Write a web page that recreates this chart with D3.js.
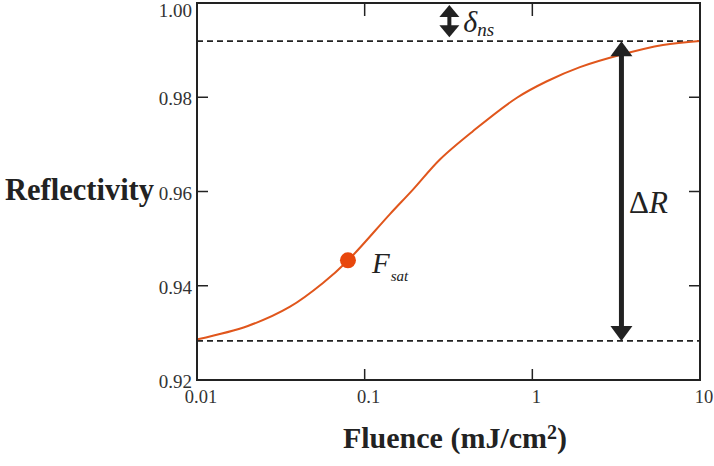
<!DOCTYPE html>
<html>
<head>
<meta charset="utf-8">
<script src="https://cdn.jsdelivr.net/npm/d3@7"></script>
<style>
  html, body { margin: 0; padding: 0; background: #fff; }
  svg { display: block; }
</style>
</head>
<body>
<svg id="chart" width="714" height="466"></svg>
<script>
// ---- data ----
const fluence = [0.0101, 0.0201, 0.0359, 0.0564, 0.0795, 0.1415, 0.194, 0.281, 0.442, 0.809, 1.222, 1.923, 3.33, 6.01, 10];
const reflectivity = [0.92864, 0.93146, 0.93555, 0.94058, 0.94536, 0.95520, 0.96040, 0.96680, 0.97280, 0.97990, 0.98340, 0.98640, 0.98897, 0.99109, 0.99194];
const xTicks = [0.01, 0.1, 1, 10];
const xTickLabels = ["0.01", "0.1", "1", "10"];
const yTicks = [0.92, 0.94, 0.96, 0.98, 1.00];
const yTickLabels = ["0.92", "0.94", "0.96", "0.98", "1.00"];
const upperLevel = 0.9919;
const lowerLevel = 0.9283;
const fsatPoint = [0.0795, 0.9454];
const deltaRFluence = 3.4;
const deltaNsFluence = 0.32;

// ---- layout ----
const svg = d3.select("#chart");
const L = 197, R = 700, T = 3, B = 380;
const x = d3.scaleLog().domain([0.01, 10]).range([L, R]);
const y = d3.scaleLinear().domain([0.92, 1.00]).range([B, T]);
const ink = "#222";
const orange = "#e0561c";
const serif = "'Liberation Serif', 'Times New Roman', serif";

// ticks (inward)
const tickLen = 11;
const g = svg.append("g");
xTicks.slice(1, -1).forEach(v => {
  g.append("line").attr("x1", x(v)).attr("x2", x(v)).attr("y1", B).attr("y2", B - tickLen).attr("stroke", ink).attr("stroke-width", 1.5);
  g.append("line").attr("x1", x(v)).attr("x2", x(v)).attr("y1", T).attr("y2", T + tickLen + 2).attr("stroke", ink).attr("stroke-width", 1.5);
});
yTicks.slice(1, -1).forEach(v => {
  g.append("line").attr("x1", L).attr("x2", L + tickLen).attr("y1", y(v)).attr("y2", y(v)).attr("stroke", ink).attr("stroke-width", 1.5);
  g.append("line").attr("x1", R).attr("x2", R - tickLen).attr("y1", y(v)).attr("y2", y(v)).attr("stroke", ink).attr("stroke-width", 1.5);
});

// tick labels
xTicks.forEach((v, i) => {
  svg.append("text").attr("x", x(v) + 4).attr("y", 403).attr("text-anchor", "middle")
    .attr("font-family", serif).attr("font-size", 18.5).attr("fill", "#333").text(xTickLabels[i]);
});
yTicks.forEach((v, i) => {
  svg.append("text").attr("x", 192).attr("y", i === yTicks.length - 1 ? 17 : y(v) + 8).attr("text-anchor", "end")
    .attr("font-family", serif).attr("font-size", 19).attr("fill", "#333").text(yTickLabels[i]);
});

// dashed levels
[upperLevel, lowerLevel].forEach(v => {
  svg.append("line").attr("x1", L).attr("x2", R).attr("y1", y(v)).attr("y2", y(v))
    .attr("stroke", ink).attr("stroke-width", 1.8).attr("stroke-dasharray", "6,4");
});

// curve
const line = d3.line().x(d => x(d[0])).y(d => y(d[1])).curve(d3.curveCatmullRom.alpha(0.5));
svg.append("path").datum(fluence.map((f, i) => [f, reflectivity[i]]))
  .attr("d", line).attr("fill", "none").attr("stroke", orange).attr("stroke-width", 2);

// frame
svg.append("rect").attr("x", L).attr("y", T).attr("width", R - L).attr("height", B - T)
  .attr("fill", "none").attr("stroke", ink).attr("stroke-width", 2);

// Fsat point
svg.append("circle").attr("cx", x(fsatPoint[0])).attr("cy", y(fsatPoint[1])).attr("r", 8).attr("fill", "#e8470c");
const ft = svg.append("text").attr("x", x(fsatPoint[0]) + 24).attr("y", y(fsatPoint[1]) + 13)
  .attr("font-family", serif).attr("font-style", "italic").attr("font-size", 29).attr("fill", ink);
ft.append("tspan").text("F");
ft.append("tspan").attr("dy", 8).attr("dx", 1).attr("font-size", 15).text("sat");

// ΔR arrow
const ax = x(deltaRFluence), yTop = y(upperLevel), yBot = y(lowerLevel);
const hw = 11, hh = 15;
svg.append("line").attr("x1", ax).attr("x2", ax).attr("y1", yTop + hh - 1).attr("y2", yBot - hh + 1)
  .attr("stroke", ink).attr("stroke-width", 5);
svg.append("path").attr("d", `M${ax},${yTop} L${ax - hw},${yTop + hh} L${ax + hw},${yTop + hh} Z`).attr("fill", ink);
svg.append("path").attr("d", `M${ax},${yBot} L${ax - hw},${yBot - hh} L${ax + hw},${yBot - hh} Z`).attr("fill", ink);
const dr = svg.append("text").attr("x", 629).attr("y", 213)
  .attr("font-family", serif).attr("font-size", 31).attr("fill", ink);
dr.append("tspan").text("Δ");
dr.append("tspan").attr("font-style", "italic").text("R");

// δns arrow
const nx = x(deltaNsFluence), nTop = y(1.0) + 2, nBot = y(upperLevel) - 4;
const nhw = 10, nhh = 12;
svg.append("path").attr("d", `M${nx},${nTop} L${nx - nhw},${nTop + nhh} L${nx + nhw},${nTop + nhh} Z`).attr("fill", ink);
svg.append("path").attr("d", `M${nx},${nBot} L${nx - nhw},${nBot - nhh} L${nx + nhw},${nBot - nhh} Z`).attr("fill", ink);
svg.append("line").attr("x1", nx).attr("x2", nx).attr("y1", nTop + nhh - 1).attr("y2", nBot - nhh + 1)
  .attr("stroke", ink).attr("stroke-width", 4);
const dn = svg.append("text").attr("x", nx + 14).attr("y", 32)
  .attr("font-family", serif).attr("font-style", "italic").attr("font-size", 30).attr("fill", ink);
dn.append("tspan").text("δ");
dn.append("tspan").attr("dy", 4).attr("font-size", 19).text("ns");

// axis titles
svg.append("text").attr("x", 5).attr("y", 200).attr("font-family", serif).attr("font-weight", "bold")
  .attr("font-size", 30.5).attr("fill", ink).text("Reflectivity");
const xt = svg.append("text").attr("x", 455).attr("y", 448).attr("text-anchor", "middle")
  .attr("font-family", serif).attr("font-weight", "bold").attr("font-size", 30).attr("fill", ink);
xt.append("tspan").text("Fluence (mJ/cm");
xt.append("tspan").attr("dy", -9).attr("font-size", 20).text("2");
xt.append("tspan").attr("dy", 9).text(")");
</script>
</body>
</html>
